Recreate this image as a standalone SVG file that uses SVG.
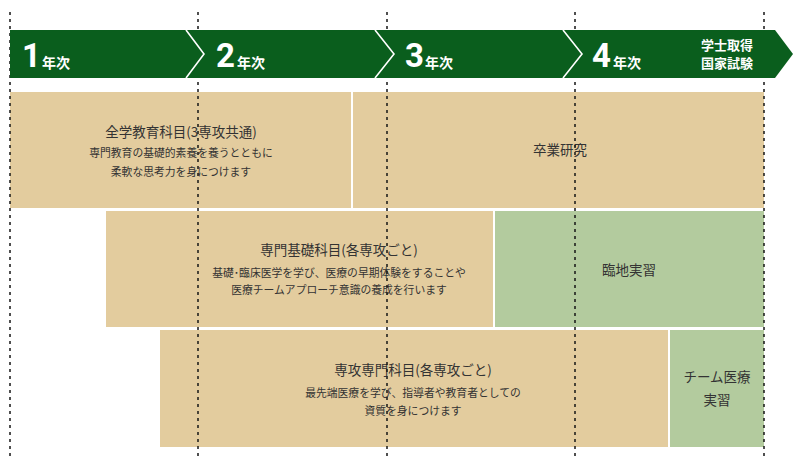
<svg xmlns="http://www.w3.org/2000/svg" width="800" height="464" viewBox="0 0 800 464">
<style>
.tan{fill:#e3cc9e}
.grn{fill:#b3cb9e}
.guide{stroke:#161616;stroke-width:1.5;stroke-dasharray:3 4;fill:none}
.chev{stroke:#ffffff;stroke-width:1.6;fill:none}
.num{font-family:Roboto,"Noto Sans CJK JP",sans-serif;font-weight:700;font-size:33px;fill:#ffffff}
.yr{font-family:"Noto Sans CJK JP",sans-serif;font-weight:700;font-size:14px;fill:#ffffff}
.hd{font-family:"Noto Sans CJK JP",sans-serif;font-weight:700;font-size:13px;fill:#ffffff;text-anchor:middle}
.t{font-family:"Noto Sans CJK JP",sans-serif;font-size:13.5px;fill:#333333;text-anchor:middle}
.s{font-family:"Noto Sans CJK JP",sans-serif;font-size:10.8px;fill:#333333;text-anchor:middle}
</style>
<rect width="800" height="464" fill="#ffffff"/>
<g id="boxes">
<g id="zengaku"><rect class="tan" x="10" y="92" width="341" height="116"/>
<text class="t" x="181" y="137">全学教育科目(3専攻共通)</text>
<text class="s" x="181" y="157">専門教育の基礎的素養を養うとともに</text>
<text class="s" x="181" y="176">柔軟な思考力を身につけます</text></g>
<g id="sotsugyo"><rect class="tan" x="353" y="92" width="411" height="116"/>
<text class="t" x="560" y="155">卒業研究</text></g>
<g id="senmonkiso"><rect class="tan" x="106" y="211" width="387" height="116"/>
<text class="t" x="339" y="255">専門基礎科目(各専攻ごと)</text>
<text class="s" x="339" y="277">基礎･臨床医学を学び、医療の早期体験をすることや</text>
<text class="s" x="339" y="294">医療チームアプローチ意識の養成を行います</text></g>
<g id="rinchi"><rect class="grn" x="495" y="211" width="269" height="116"/>
<text class="t" x="629" y="275">臨地実習</text></g>
<g id="senkou"><rect class="tan" x="160" y="330" width="508" height="117"/>
<text class="t" x="413" y="375">専攻専門科目(各専攻ごと)</text>
<text class="s" x="413" y="397">最先端医療を学び、指導者や教育者としての</text>
<text class="s" x="413" y="415">資質を身につけます</text></g>
<g id="team"><rect class="grn" x="670" y="330" width="94" height="117"/>
<text class="t" x="717" y="382">チーム医療</text>
<text class="t" x="717" y="405">実習</text></g>
</g>
<g id="connectors">
<line class="guide" x1="10" y1="12" x2="10" y2="458"/>
<line class="guide" x1="198" y1="12" x2="198" y2="458"/>
<line class="guide" x1="387" y1="12" x2="387" y2="458"/>
<line class="guide" x1="575" y1="12" x2="575" y2="458"/>
<line class="guide" x1="764" y1="12" x2="764" y2="458"/>
</g>
<g id="timeline">
<polygon points="10,30 775,30 793,54 775,78 10,78" fill="#0a5e1d"/>
<polyline class="chev" points="186,30 204,54 186,78"/>
<polyline class="chev" points="375,30 394,54 375,78"/>
<polyline class="chev" points="563,30 582,54 563,78"/>
<g id="y1"><text class="num" x="22" y="67">1</text><text class="yr" x="42" y="68">年次</text></g>
<g id="y2"><text class="num" x="216" y="67">2</text><text class="yr" x="237" y="68">年次</text></g>
<g id="y3"><text class="num" x="405" y="67">3</text><text class="yr" x="425" y="68">年次</text></g>
<g id="y4"><text class="num" x="592" y="67">4</text><text class="yr" x="613" y="68">年次</text></g>
<g id="goal"><text class="hd" x="727" y="50">学士取得</text><text class="hd" x="727" y="68">国家試験</text></g>
</g>
</svg>
